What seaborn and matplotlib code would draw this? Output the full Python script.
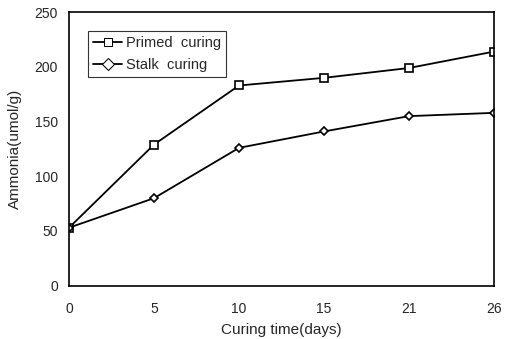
import matplotlib
matplotlib.use("Agg")
import matplotlib.pyplot as plt
import seaborn as sns
import pandas as pd

days = ["0", "5", "10", "15", "21", "26"]
primed = [53, 129, 183, 190, 199, 214]
stalk = [53, 80, 126, 141, 155, 158]
yticks = [0, 50, 100, 150, 200, 250]

sns.set_theme(style="white")
plt.rcParams['font.family'] = ['Liberation Sans', 'DejaVu Sans']

df = pd.DataFrame({
    "day": days * 2,
    "value": primed + stalk,
    "series": ["Primed  curing"] * len(days) + ["Stalk  curing"] * len(days),
})

fig = plt.figure(figsize=(5.07, 3.39), dpi=100)
ax = fig.add_axes([69/507, 1 - 285.7/339, (494-69)/507, (285.7-12.2)/339])

sns.lineplot(data=df, x="day", y="value", hue="series", style="series",
             markers={"Primed  curing": "s", "Stalk  curing": "D"},
             dashes=False, palette=["black", "black"], ax=ax, sort=False,
             markerfacecolor="white", markeredgecolor="black",
             linewidth=1.3, legend=True)
for line, ms in zip(ax.lines, [5.5, 4.2]):
    line.set_markersize(ms)
    line.set_markeredgewidth(1.2)

ax.set_xlim(0, len(days) - 1)
ax.set_ylim(0, 250)
ax.set_yticks(yticks)
ax.set_xlabel("Curing time(days)", fontsize=11, labelpad=5)
ax.set_ylabel("Ammonia(umol/g)", fontsize=11, labelpad=9)
ax.tick_params(axis="both", labelsize=10, length=0)
ax.tick_params(axis="x", pad=12)
ax.tick_params(axis="y", pad=8)
for s in ax.spines.values():
    s.set_color("black")
    s.set_linewidth(1.2)

leg = ax.legend(loc="upper left", bbox_to_anchor=(0.045, 0.93), fontsize=10.5,
                frameon=True, fancybox=False, edgecolor="black",
                handlelength=2.0, handletextpad=0.25, borderpad=0.35,
                labelspacing=0.5, borderaxespad=0)
leg.get_frame().set_linewidth(0.8)
for h in leg.legend_handles:
    h.set_markerfacecolor("white")
    h.set_markeredgecolor("black")

fig.savefig("out.png", dpi=100)
